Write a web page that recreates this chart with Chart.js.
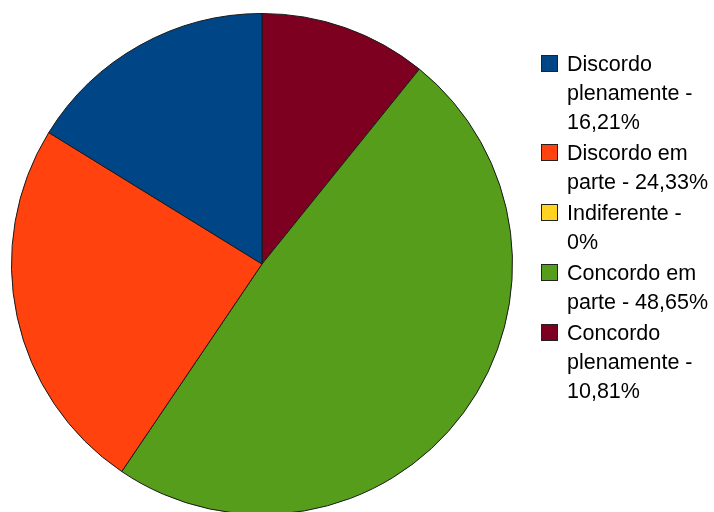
<!DOCTYPE html>
<html><head><meta charset="utf-8">
<script src="https://cdn.jsdelivr.net/npm/chart.js@4/dist/chart.umd.min.js"></script>
<style>
html,body{margin:0;padding:0;background:#fff;overflow:hidden;width:714px;height:512px;}
#wrap{position:absolute;left:0;top:0;width:714px;height:530px;}
#legend{position:absolute;left:541px;top:50px;font-family:"Liberation Sans",Arial,sans-serif;font-size:21.5px;line-height:29px;color:#000;}
.item{position:relative;padding-left:26px;margin-bottom:2px;}
.sw{position:absolute;left:0;top:5px;width:15px;height:15px;border:1px solid #222;}
</style></head>
<body>
<div id="wrap"><canvas id="c" width="714" height="530"></canvas></div>
<div id="legend"></div>
<script>
const labels = ["Discordo plenamente", "Discordo em parte", "Indiferente", "Concordo em parte", "Concordo plenamente"];
const legendLines = [
  ["Discordo", "plenamente -", "16,21%"],
  ["Discordo em", "parte - 24,33%"],
  ["Indiferente -", "0%"],
  ["Concordo em", "parte - 48,65%"],
  ["Concordo", "plenamente -", "10,81%"]
];
const values = [16.21, 24.33, 0, 48.65, 10.81];
const colors = ["#004586", "#ff420e", "#ffd320", "#579d1c", "#7e0021"];

// LibreOffice draws counter-clockwise; Chart.js clockwise -> reverse order
const rLabels = labels.slice().reverse();
const rValues = values.slice().reverse();
const rColors = colors.slice().reverse();

new Chart(document.getElementById('c'), {
  type: 'pie',
  data: { labels: rLabels, datasets: [{ data: rValues, backgroundColor: rColors, borderColor: '#1a1a1a', borderWidth: 1 }] },
  options: {
    responsive: false, animation: false, events: [],
    layout: { padding: { left: 11, right: 201, top: 13, bottom: 15 } },
    plugins: { legend: { display: false }, tooltip: { enabled: false } }
  }
});

const lg = document.getElementById('legend');
legendLines.forEach((lines, i) => {
  const d = document.createElement('div'); d.className = 'item';
  const s = document.createElement('span'); s.className = 'sw'; s.style.background = colors[i];
  d.appendChild(s);
  lines.forEach(t => { const l = document.createElement('div'); l.textContent = t; d.appendChild(l); });
  lg.appendChild(d);
});
</script>
</body></html>
